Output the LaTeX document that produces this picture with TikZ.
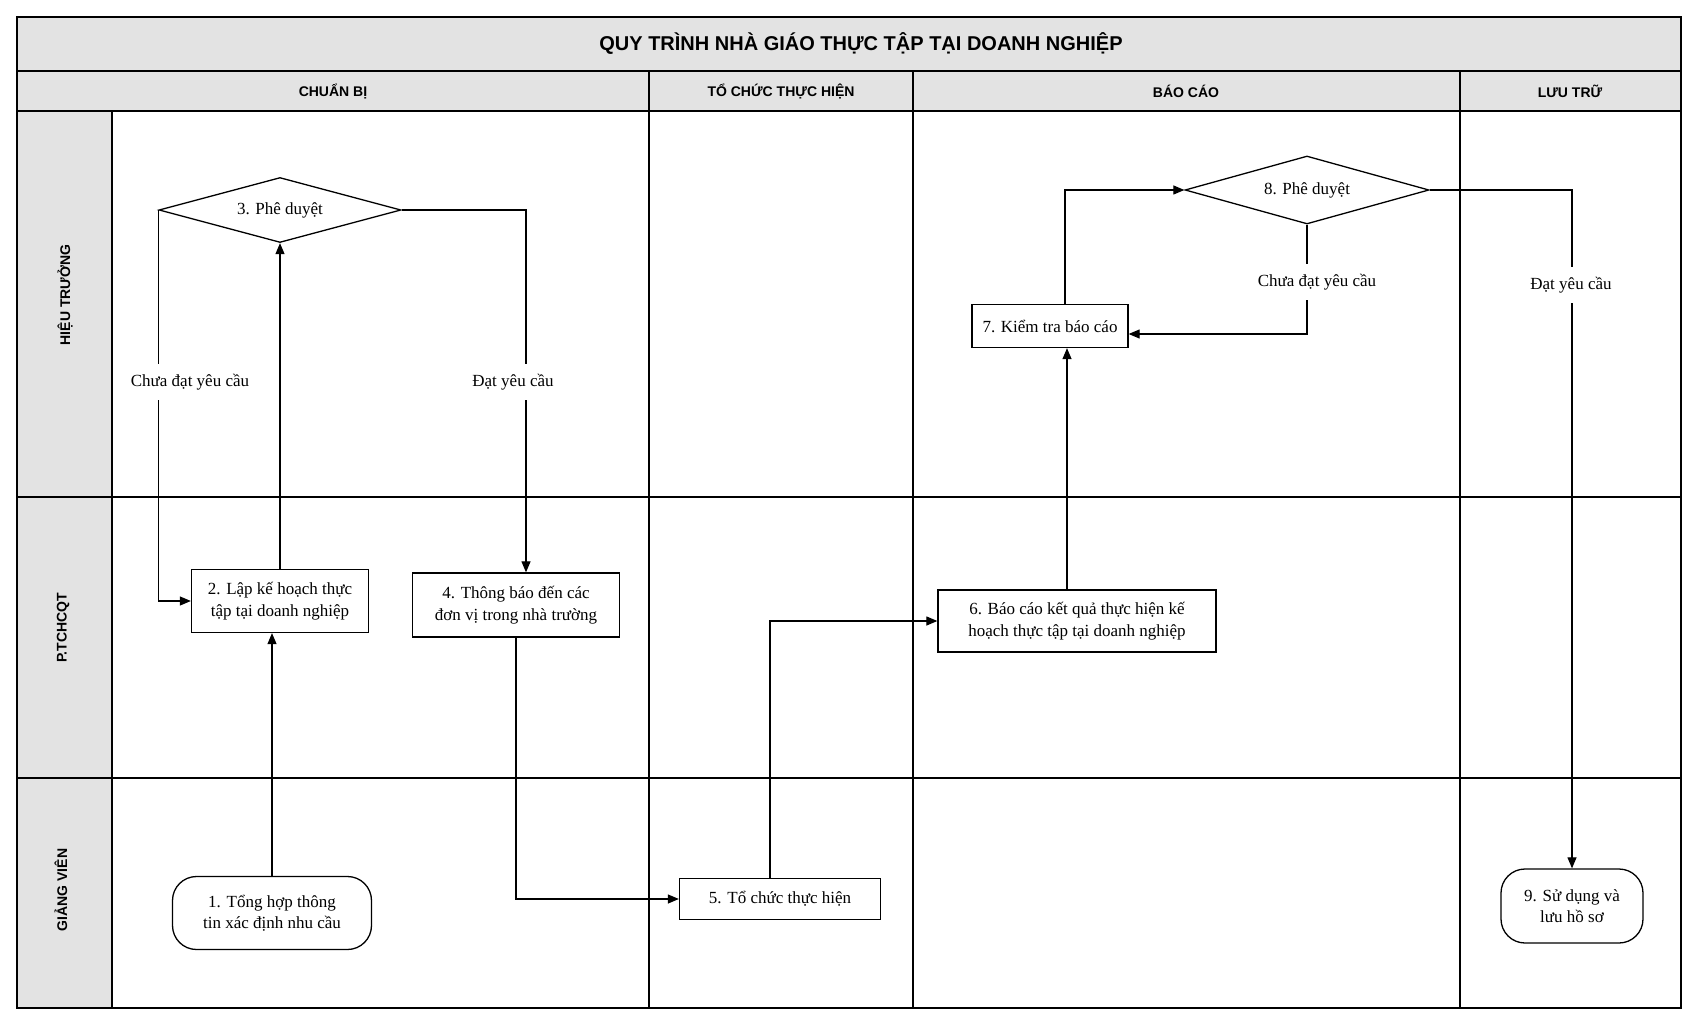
\documentclass[tikz,border=0pt]{standalone}
\usepackage{fontspec}
\setmainfont{Liberation Serif}
\newfontfamily\hfont{Liberation Sans}
\usetikzlibrary{arrows.meta,shapes.geometric}
\newcommand\nodefont{\fontsize{17}{21.5}\selectfont}
\begin{document}
\begin{tikzpicture}[x=1pt,y=-1pt,
  line width=1.2pt,
  box/.style={draw, rectangle, align=center, font=\nodefont, inner sep=2pt, line width=1.3pt},
  term/.style={box, rounded corners=24pt},
  dec/.style={draw, diamond, shape aspect=3.7, align=center, font=\nodefont, inner sep=0pt, line width=1.3pt},
  lbl/.style={fill=white, font=\nodefont, inner xsep=1pt, inner ysep=10pt},
  arr/.style={-{Triangle[length=11pt,width=9pt]}, line width=1.2pt},
  hdr/.style={font=\hfont\bfseries\fontsize{14}{16}\selectfont},
  grid/.style={line width=1.3pt},
]
\useasboundingbox (0,0) rectangle (1687,1024);
\fill[white] (0,0) rectangle (1687,1024);
% grey bands
\fill[gray!22] (17,17) rectangle (1681,111);
\fill[gray!22] (17,111) rectangle (112,1008);
% frame and grid
\draw[grid] (17,17) rectangle (1681,1008);
\draw[grid] (17,71) -- (1681,71);
\draw[grid] (17,111) -- (1681,111);
\draw[grid] (112,111) -- (112,1008);
\draw[grid] (649,71) -- (649,1008);
\draw[grid] (913,71) -- (913,1008);
\draw[grid] (1460,71) -- (1460,1008);
\draw[grid] (17,497) -- (1681,497);
\draw[grid] (17,778) -- (1681,778);
% titles
\node[font=\hfont\bfseries\fontsize{20}{24}\selectfont] (title) at (861,44) {QUY TRÌNH NHÀ GIÁO THỰC TẬP TẠI DOANH NGHIỆP};
\node[hdr] (hA) at (333,91) {CHUẨN BỊ};
\node[hdr] (hB) at (781,91) {TỔ CHỨC THỰC HIỆN};
\node[hdr] (hC) at (1186,91) {BÁO CÁO};
\node[hdr] (hD) at (1570,91) {LƯU TRỮ};
\node[hdr, rotate=90] (lA) at (65,295) {HIỆU TRƯỞNG};
\node[hdr, rotate=90] (lB) at (63,628) {P.TCHCQT};
\node[hdr, rotate=90] (lC) at (61,890) {GIẢNG VIÊN};
% nodes
\node[term, minimum width=199pt, minimum height=73pt] (n1) at (272,913) {1. Tổng hợp thông\\tin xác định nhu cầu};
\node[box, minimum width=177pt, minimum height=63pt] (n2) at (280,601) {2. Lập kế hoạch thực\\tập tại doanh nghiệp};
\node[dec, minimum width=242pt, minimum height=65pt] (n3) at (280,210) {3. Phê duyệt};
\node[box, minimum width=207pt, minimum height=64pt] (n4) at (516,605) {4. Thông báo đến các\\đơn vị trong nhà trường};
\node[box, minimum width=201pt, minimum height=41pt] (n5) at (780,899) {5. Tổ chức thực hiện};
\node[box, minimum width=278pt, minimum height=62pt] (n6) at (1077,621) {6. Báo cáo kết quả thực hiện kế\\hoạch thực tập tại doanh nghiệp};
\node[box, minimum width=156pt, minimum height=43pt] (n7) at (1050,326) {7. Kiểm tra báo cáo};
\node[dec, minimum width=244pt, minimum height=68pt] (n8) at (1307,190) {8. Phê duyệt};
\node[term, minimum width=142pt, minimum height=74pt] (n9) at (1572,906) {9. Sử dụng và\\lưu hồ sơ};
% connectors
\draw[arr] (n1.north) -- (n1.north |- n2.south);
\draw[arr] (n2.north) -- (n3.south);
\draw[arr] (n3.west) |- (n2.west);
\draw[arr] (n3.east) -| ([xshift=10pt]n4.north);
\draw[arr] (n4.south) |- (n5.west);
\draw[arr] ([xshift=-10pt]n5.north) |- (n6.west);
\draw[arr] ([xshift=-10pt]n6.north) -- ([xshift=-10pt]n6.north |- n7.south);
\draw[arr] ([xshift=15pt]n7.north) |- (n8.west);
\draw[arr] (n8.south) |- ([yshift=-8pt]n7.east);
\draw[arr] (n8.east) -| (n9.north);
% labels
\node[lbl] (l1) at (190,382) {Chưa đạt yêu cầu};
\node[lbl] (l2) at (513,382) {Đạt yêu cầu};
\node[lbl] (l3) at (1317,282) {Chưa đạt yêu cầu};
\node[lbl] (l4) at (1571,285) {Đạt yêu cầu};
\end{tikzpicture}
\end{document}
